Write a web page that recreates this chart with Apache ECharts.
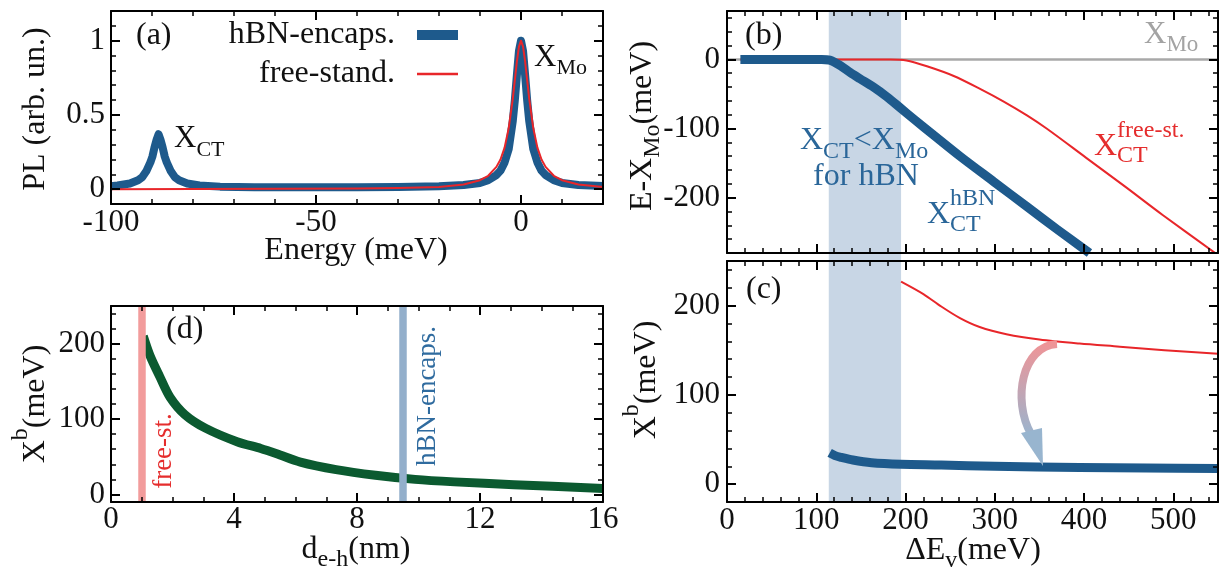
<!DOCTYPE html>
<html lang="en">
<head>
<meta charset="UTF-8">
<title>XCT vs XMo</title>
<script src="https://cdn.jsdelivr.net/npm/echarts@6/dist/echarts.min.js"></script>
<style>html,body{margin:0;background:#fff}#main{width:1228px;height:571px}</style>
</head>
<body>
<div id="main"></div>
<script>
// (a) PL spectra, [energy meV, PL]
var plHbn = [[-100,0.02],[-98.4,0.025],[-95.4,0.038],[-93.4,0.06],[-92.4,0.08],[-91.4,0.12],[-90.4,0.18],[-89.9,0.22],[-89.4,0.28],[-88.9,0.33],[-88.4,0.37],[-87.9,0.33],[-87.4,0.28],[-86.9,0.22],[-86.4,0.18],[-85.4,0.12],[-84.4,0.08],[-83.4,0.06],[-81.4,0.038],[-78.4,0.025],[-73.4,0.017],[-65,0.013],[-50,0.012],[-40,0.012],[-30,0.014],[-20,0.02],[-14,0.028],[-10,0.042],[-8,0.06],[-6,0.095],[-5,0.125],[-4,0.18],[-3,0.27],[-2,0.46],[-1.5,0.6],[-1,0.77],[-0.5,0.93],[0,1.0],[0.5,0.93],[1,0.77],[1.5,0.6],[2,0.46],[3,0.27],[4,0.18],[5,0.125],[6,0.095],[8,0.06],[10,0.042],[14,0.028],[20,0.022]];
var plFree = [[-100,0],[-60,0.002],[-40,0.004],[-30,0.007],[-20,0.015],[-14,0.031],[-10,0.06],[-8,0.09],[-6,0.15],[-5,0.2],[-4,0.28],[-3,0.41],[-2,0.61],[-1,0.86],[-0.5,0.96],[0,1.0],[0.5,0.96],[1,0.86],[2,0.61],[3,0.41],[4,0.28],[5,0.2],[6,0.15],[8,0.09],[10,0.06],[14,0.031],[20,0.015]];
// (b) E - X_Mo vs dEv, [meV, meV]
var shiftHbn = [[15,0],[106,0],[115,-1],[127,-9],[138,-19],[149,-28],[164,-40],[179,-54],[194,-70],[209,-86],[232,-110],[261,-140],[299,-177],[336,-213],[370,-246],[406,-280]];
var shiftFree = [[15,0],[150,0],[183,0],[201,-1.5],[224,-10],[254,-24],[284,-43],[310,-61],[336,-81],[358,-100],[402,-142],[446,-184],[488,-225],[550,-283]];
var xMoLine = [[0,0],[550,0]];
// (c) binding energy vs dEv
var bindFree = [[195,227],[220,213],[240,199],[261,186],[283,176],[313,168],[350,162],[395,157.5],[440,154],[490,150],[550,146]];
var bindHbn = [[115,35],[121,32],[128,30],[141,27],[162,24],[195,22.3],[240,21.5],[300,20],[395,18.6],[470,18],[550,17.5]];
var bandEv = [114, 195];
// (d) binding energy vs e-h distance, [nm, meV]
var bindDist = [[1.05,210],[1.27,184],[1.59,156],[1.92,129],[2.4,106],[3.07,88],[4.1,70],[4.87,61],[5.39,54],[6.16,43],[7.32,33],[8.6,25.5],[9.89,20],[11.17,16.7],[13.1,13],[16,8]];
var dFree = 1.0, dHbn = 9.5;

var BLUE = '#1e5a8c', RED = '#e8262a', GREEN = '#0b5a30', GRAY = '#a8a8a8', BAND = '#c8d6e5';
var TXT = '#111', TBLUE = '#2a6699', TRED = '#e52d2d', TGRAY = '#a3a3a3';
var FONT = 'Liberation Serif';

function range(a, b, s) {
    var r = [];
    for (var v = a; v <= b + 1e-9; v += s) r.push(+v.toFixed(6));
    return r;
}

// frame + major ticks/labels, and a second axis for the minor ticks, on both sides
function sideAxes(dim, g, min, max, major, minor, labels, margin) {
    var pos = dim === 'x' ? ['bottom', 'top'] : ['left', 'right'];
    var out = [];
    pos.forEach(function (p, k) {
        out.push({
            type: 'value', gridIndex: g, position: p, min: min, max: max, z: 10,
            axisLine: { show: true, onZero: false, lineStyle: { color: '#000', width: 2 } },
            axisTick: { show: true, inside: true, length: 9, customValues: major, lineStyle: { color: '#000', width: 2 } },
            axisLabel: { show: k === 0 && !!labels, customValues: labels || [], margin: margin,
                fontFamily: FONT, fontSize: 31, color: TXT },
            splitLine: { show: false }
        });
        out.push({
            type: 'value', gridIndex: g, position: p, min: min, max: max, z: 10,
            axisLine: { show: false, onZero: false },
            axisTick: { show: true, inside: true, length: 5, customValues: minor, lineStyle: { color: '#000', width: 1.5 } },
            axisLabel: { show: false },
            splitLine: { show: false }
        });
    });
    return out;
}

var grids = [
    { left: 111, top: 11, width: 492, height: 193 },
    { left: 727, top: 11, width: 491, height: 242 },
    { left: 727, top: 261, width: 491, height: 241 },
    { left: 111, top: 306, width: 492, height: 196 }
];

var xAxes = [].concat(
    sideAxes('x', 0, -100, 20, [-100, -50, 0], range(-100, 20, 10), [-100, -50, 0], 3),
    sideAxes('x', 1, 0, 550, range(0, 500, 100), range(0, 540, 20), null, 3),
    sideAxes('x', 2, 0, 550, range(0, 500, 100), range(0, 540, 20), range(0, 500, 100), 3),
    sideAxes('x', 3, 0, 16, [0, 4, 8, 12, 16], range(0, 16, 1), [0, 4, 8, 12, 16], 2)
);
var yAxes = [].concat(
    sideAxes('y', 0, -0.1, 1.2, [0, 0.5, 1], range(-0.1, 1.2, 0.1), [0, 0.5, 1], 6),
    sideAxes('y', 1, -280, 70, [-200, -100, 0], range(-280, 60, 20), [-200, -100, 0], 7),
    sideAxes('y', 2, -20, 250, [0, 100, 200], range(-20, 240, 20), [0, 100, 200], 7),
    sideAxes('y', 3, -10, 250, [0, 100, 200], range(0, 240, 20), [0, 100, 200], 6)
);

function line(g, data, color, width, smooth) {
    return {
        type: 'line', xAxisIndex: 4 * g, yAxisIndex: 4 * g, data: data, symbol: 'none', z: 3,
        smooth: smooth || false,
        lineStyle: { color: color, width: width, join: 'round' }, silent: true
    };
}
function bandSeries(g) {
    return {
        type: 'line', xAxisIndex: 4 * g, yAxisIndex: 4 * g, data: [], z: 1,
        markArea: { silent: true, itemStyle: { color: BAND }, data: [[{ xAxis: bandEv[0] }, { xAxis: bandEv[1] }]] }
    };
}

var series = [
    line(0, plHbn, BLUE, 8),
    line(0, plFree, RED, 2),
    bandSeries(1),
    line(1, xMoLine, GRAY, 2.5),
    line(1, shiftFree, RED, 2, 0.3),
    line(1, shiftHbn, BLUE, 9, 0.3),
    bandSeries(2),
    line(2, bindFree, RED, 2, 0.3),
    line(2, bindHbn, BLUE, 9, 0.3),
    {
        type: 'line', xAxisIndex: 12, yAxisIndex: 12, data: [], z: 1,
        markLine: {
            silent: true, symbol: ['none', 'none'], label: { show: false },
            data: [
                { xAxis: dFree, lineStyle: { color: '#f29c9c', width: 7.5, type: 'solid' } },
                { xAxis: dHbn, lineStyle: { color: '#93afcb', width: 7.5, type: 'solid' } }
            ]
        }
    },
    line(3, bindDist, GREEN, 9, 0.3)
];

var chart = echarts.init(document.getElementById('main'));
chart.setOption({
    animation: false,
    backgroundColor: '#fff',
    grid: grids.map(function (g) { return Object.assign({ outerBoundsMode: 'none' }, g); }),
    xAxis: xAxes,
    yAxis: yAxes,
    series: series
});

// text pieces with sub/superscripts
var mctx = document.createElement('canvas').getContext('2d');
function tw(t, s) { mctx.font = s + 'px "' + FONT + '"'; return mctx.measureText(t).width; }
function label(x, y, parts, color, opt) {
    opt = opt || {};
    var kids = [], cx = 0, lastStart = 0;
    parts.forEach(function (p) {
        var s = p[1] || 32, w = tw(p[0], s), start = p[3] ? lastStart : cx;
        kids.push({
            type: 'text', x: start, y: p[2] || 0, z: 100,
            style: { text: p[0], fill: color, font: s + 'px "' + FONT + '"',
                align: 'left', verticalAlign: 'middle', textAlign: 'left', textVerticalAlign: 'middle' }
        });
        cx = p[3] ? Math.max(cx, start + w) : start + w;
        lastStart = start;
    });
    var shift = opt.anchor === 'center' ? -cx / 2 : (opt.anchor === 'right' ? -cx : 0);
    kids.forEach(function (k) { k.x += shift; });
    return { type: 'group', x: x, y: y, rotation: opt.rot || 0, z: 100, silent: true, children: kids };
}

var R90 = Math.PI / 2;
var gl = chart.convertToPixel({ xAxisIndex: 4, yAxisIndex: 4 }, [bandEv[0], 0])[0];
var gr = chart.convertToPixel({ xAxisIndex: 4, yAxisIndex: 4 }, [bandEv[1], 0])[0];
var arrowGrad = new echarts.graphic.LinearGradient(0, 0, 0, 1, [
    { offset: 0, color: '#f29395' }, { offset: 1, color: '#98b5cf' }
]);

var graphics = [
    // band continues through the gap between (b) and (c)
    { type: 'rect', z: 5, silent: true, shape: { x: gl, y: 253, width: gr - gl, height: 8 }, style: { fill: BAND } },
    // panel tags
    label(136, 36, [['(a)']], TXT),
    label(745, 36, [['(b)']], TXT),
    label(746, 290, [['(c)']], TXT),
    label(166, 330, [['(d)']], TXT),
    // (a) legend
    label(395, 35, [['hBN-encaps.']], TXT, { anchor: 'right' }),
    label(395, 74, [['free-stand.']], TXT, { anchor: 'right' }),
    { type: 'line', z: 100, silent: true, shape: { x1: 417, y1: 35, x2: 458, y2: 35 }, style: { stroke: BLUE, lineWidth: 10 } },
    { type: 'line', z: 100, silent: true, shape: { x1: 417, y1: 74, x2: 458, y2: 74 }, style: { stroke: RED, lineWidth: 2.5 } },
    // (a) peaks
    label(174, 139, [['X', 31], ['CT', 22, 11]], TXT),
    label(534, 58, [['X', 31], ['Mo', 22, 10]], TXT),
    // axis names
    label(36, 109, [['PL (arb. un.)']], TXT, { anchor: 'center', rot: R90 }),
    label(356, 251, [['Energy (meV)']], TXT, { anchor: 'center' }),
    label(643, 126, [['E-X'], ['Mo', 24, 10], ['(meV)']], TXT, { anchor: 'center', rot: R90 }),
    label(647, 380, [['X'], ['b', 24, -15], ['(meV)']], TXT, { anchor: 'center', rot: R90 }),
    label(973, 551, [['ΔE'], ['v', 24, 10], ['(meV)']], TXT, { anchor: 'center' }),
    label(36, 404, [['X'], ['b', 24, -15], ['(meV)']], TXT, { anchor: 'center', rot: R90 }),
    label(356, 550, [['d'], ['e-h', 24, 10], ['(nm)']], TXT, { anchor: 'center' }),
    // (b) annotations
    label(1144, 35, [['X', 31], ['Mo', 23, 10]], TGRAY),
    label(800, 141, [['X'], ['CT', 24, 11], ['<'], ['X'], ['Mo', 24, 11]], TBLUE),
    label(866, 177, [['for hBN']], TBLUE, { anchor: 'center' }),
    label(927, 215, [['X'], ['hBN', 24, -16], ['CT', 24, 10, true]], TBLUE),
    label(1094, 147, [['X'], ['free-st.', 24, -16], ['CT', 24, 9, true]], TRED),
    // (d) band labels
    label(164, 451, [['free-st.', 27]], TRED, { anchor: 'center', rot: R90 }),
    label(428, 396, [['hBN-encaps.', 27]], '#2f6b9f', { anchor: 'center', rot: R90 }),
    // (c) arrow from free-standing to hBN binding energy
    { type: 'bezierCurve', z: 100, silent: true,
      shape: { x1: 1057, y1: 344, cpx1: 1022, cpy1: 346, cpx2: 1012, cpy2: 400, x2: 1031, y2: 434 },
      style: { stroke: arrowGrad, lineWidth: 8, fill: null } },
    { type: 'polygon', z: 100, silent: true,
      shape: { points: [[1021, 433], [1042, 428], [1043, 466]] }, style: { fill: '#98b5cf' } }
];

chart.setOption({ graphic: graphics });
</script>
</body>
</html>
